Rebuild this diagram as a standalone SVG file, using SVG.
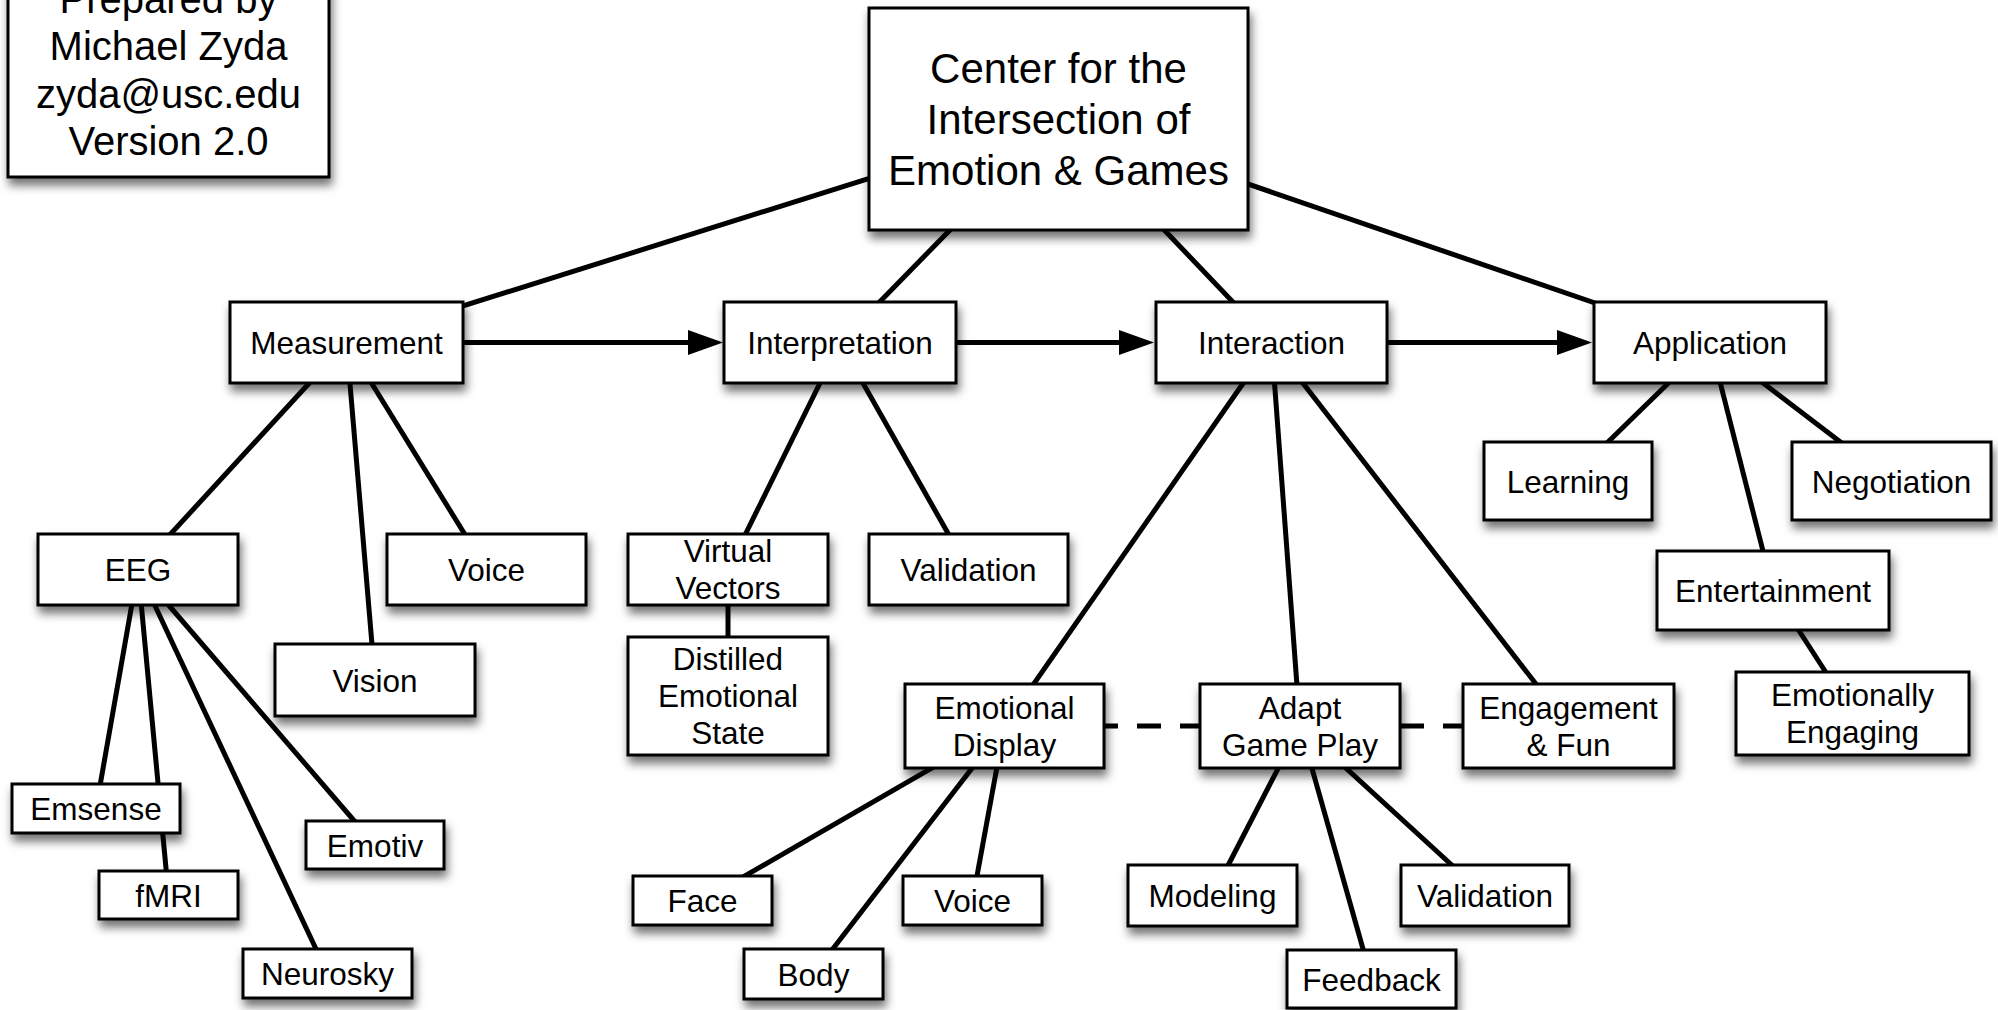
<svg xmlns="http://www.w3.org/2000/svg" width="1998" height="1010" viewBox="0 0 1998 1010">
<style>
  .box { fill: #ffffff; stroke: #000000; stroke-width: 3; filter: url(#shadow); }
  .t { font-family: "Liberation Sans", Arial, Helvetica, sans-serif; font-size: 31.5px; fill: #000000; text-anchor: middle; }
  .big { font-size: 42px; }
  .note { font-size: 40px; }
  .c { stroke: #000000; stroke-width: 5; fill: none; }
  .dash { stroke-dasharray: 24 19; }
</style>
<defs>
  <filter id="shadow" x="-20%" y="-20%" width="140%" height="160%">
    <feDropShadow dx="2" dy="7" stdDeviation="5" flood-color="#000000" flood-opacity="0.55"/>
  </filter>
  <marker id="arrow" markerUnits="userSpaceOnUse" markerWidth="36" markerHeight="26" refX="0" refY="12.5" orient="auto">
    <path d="M0,0 L35,12.5 L0,25 Z" fill="#000000"/>
  </marker>
</defs>
<rect width="1998" height="1010" fill="#ffffff"/>
<g id="connectors">
  <line class="c" x1="1058.5" y1="119" x2="346.5" y2="342.5"/>
  <line class="c" x1="1058.5" y1="119" x2="840" y2="342.5"/>
  <line class="c" x1="1058.5" y1="119" x2="1271.5" y2="342.5"/>
  <line class="c" x1="1058.5" y1="119" x2="1710" y2="342.5"/>
  <line class="c" x1="346.5" y1="342.5" x2="138" y2="569.5"/>
  <line class="c" x1="346.5" y1="342.5" x2="375" y2="680"/>
  <line class="c" x1="346.5" y1="342.5" x2="486.5" y2="569.5"/>
  <line class="c" x1="138" y1="569.5" x2="96" y2="808.5"/>
  <line class="c" x1="138" y1="569.5" x2="168.5" y2="895"/>
  <line class="c" x1="138" y1="569.5" x2="375" y2="845"/>
  <line class="c" x1="138" y1="569.5" x2="327.5" y2="973.5"/>
  <line class="c" x1="840" y1="342.5" x2="728" y2="569.5"/>
  <line class="c" x1="840" y1="342.5" x2="968.5" y2="569.5"/>
  <line class="c" x1="728" y1="569.5" x2="728" y2="696"/>
  <line class="c" x1="1271.5" y1="342.5" x2="1004.5" y2="726"/>
  <line class="c" x1="1271.5" y1="342.5" x2="1300" y2="726"/>
  <line class="c" x1="1271.5" y1="342.5" x2="1568.5" y2="726"/>
  <line class="c" x1="1004.5" y1="726" x2="702.5" y2="900.5"/>
  <line class="c" x1="1004.5" y1="726" x2="813.5" y2="974"/>
  <line class="c" x1="1004.5" y1="726" x2="972.5" y2="900.5"/>
  <line class="c" x1="1300" y1="726" x2="1212.5" y2="895.5"/>
  <line class="c" x1="1300" y1="726" x2="1371.5" y2="979"/>
  <line class="c" x1="1300" y1="726" x2="1485" y2="895.5"/>
  <line class="c" x1="1710" y1="342.5" x2="1568" y2="481"/>
  <line class="c" x1="1710" y1="342.5" x2="1891.5" y2="481"/>
  <line class="c" x1="1710" y1="342.5" x2="1773" y2="590.5"/>
  <line class="c" x1="1773" y1="590.5" x2="1852.5" y2="713.5"/>
  <line class="c" x1="463" y1="342.5" x2="688" y2="342.5" marker-end="url(#arrow)"/>
  <line class="c" x1="956" y1="342.5" x2="1119" y2="342.5" marker-end="url(#arrow)"/>
  <line class="c" x1="1387" y1="342.5" x2="1557" y2="342.5" marker-end="url(#arrow)"/>
  <line class="c dash" x1="1104" y1="726" x2="1200" y2="726" stroke-dashoffset="10"/>
  <line class="c dash" x1="1400" y1="726" x2="1463" y2="726"/>
</g>
<g id="prepared"><rect class="box" x="8" y="-37" width="321" height="214"/>
  <text class="t note" x="168.5" y="12.5">Prepared by</text>
  <text class="t note" x="168.5" y="60">Michael Zyda</text>
  <text class="t note" x="168.5" y="107.5">zyda@usc.edu</text>
  <text class="t note" x="168.5" y="155">Version 2.0</text></g>
<g id="center"><rect class="box" x="869" y="8" width="379" height="222"/>
  <text class="t big" x="1058.5" y="83">Center for the</text>
  <text class="t big" x="1058.5" y="134">Intersection of</text>
  <text class="t big" x="1058.5" y="185">Emotion &amp; Games</text></g>
<g id="measurement"><rect class="box" x="230" y="302" width="233" height="81"/><text class="t" x="346.5" y="354">Measurement</text></g>
<g id="interpretation"><rect class="box" x="724" y="302" width="232" height="81"/><text class="t" x="840" y="354">Interpretation</text></g>
<g id="interaction"><rect class="box" x="1156" y="302" width="231" height="81"/><text class="t" x="1271.5" y="354">Interaction</text></g>
<g id="application"><rect class="box" x="1594" y="302" width="232" height="81"/><text class="t" x="1710" y="354">Application</text></g>
<g id="eeg"><rect class="box" x="38" y="534" width="200" height="71"/><text class="t" x="138" y="581">EEG</text></g>
<g id="vision"><rect class="box" x="275" y="644" width="200" height="72"/><text class="t" x="375" y="691.5">Vision</text></g>
<g id="voice-measurement"><rect class="box" x="387" y="534" width="199" height="71"/><text class="t" x="486.5" y="581">Voice</text></g>
<g id="emsense"><rect class="box" x="12" y="784" width="168" height="49"/><text class="t" x="96" y="820">Emsense</text></g>
<g id="fmri"><rect class="box" x="99" y="871" width="139" height="48"/><text class="t" x="168.5" y="906.5">fMRI</text></g>
<g id="emotiv"><rect class="box" x="306" y="821" width="138" height="48"/><text class="t" x="375" y="856.5">Emotiv</text></g>
<g id="neurosky"><rect class="box" x="243" y="949" width="169" height="49"/><text class="t" x="327.5" y="985">Neurosky</text></g>
<g id="virtual-vectors"><rect class="box" x="628" y="534" width="200" height="71"/>
  <text class="t" x="728" y="562">Virtual</text><text class="t" x="728" y="599">Vectors</text></g>
<g id="validation-interpretation"><rect class="box" x="869" y="534" width="199" height="71"/><text class="t" x="968.5" y="581">Validation</text></g>
<g id="distilled"><rect class="box" x="628" y="637" width="200" height="118"/>
  <text class="t" x="728" y="670">Distilled</text><text class="t" x="728" y="707">Emotional</text><text class="t" x="728" y="744">State</text></g>
<g id="emotional-display"><rect class="box" x="905" y="684" width="199" height="84"/>
  <text class="t" x="1004.5" y="718.5">Emotional</text><text class="t" x="1004.5" y="755.5">Display</text></g>
<g id="adapt-game-play"><rect class="box" x="1200" y="684" width="200" height="84"/>
  <text class="t" x="1300" y="718.5">Adapt</text><text class="t" x="1300" y="755.5">Game Play</text></g>
<g id="engagement"><rect class="box" x="1463" y="684" width="211" height="84"/>
  <text class="t" x="1568.5" y="718.5">Engagement</text><text class="t" x="1568.5" y="755.5">&amp; Fun</text></g>
<g id="face"><rect class="box" x="633" y="876" width="139" height="49"/><text class="t" x="702.5" y="912">Face</text></g>
<g id="body"><rect class="box" x="744" y="949" width="139" height="50"/><text class="t" x="813.5" y="985.5">Body</text></g>
<g id="voice-display"><rect class="box" x="903" y="876" width="139" height="49"/><text class="t" x="972.5" y="912">Voice</text></g>
<g id="modeling"><rect class="box" x="1128" y="865" width="169" height="61"/><text class="t" x="1212.5" y="907">Modeling</text></g>
<g id="feedback"><rect class="box" x="1287" y="950" width="169" height="58"/><text class="t" x="1371.5" y="990.5">Feedback</text></g>
<g id="validation-adapt"><rect class="box" x="1401" y="865" width="168" height="61"/><text class="t" x="1485" y="907">Validation</text></g>
<g id="learning"><rect class="box" x="1484" y="442" width="168" height="78"/><text class="t" x="1568" y="492.5">Learning</text></g>
<g id="negotiation"><rect class="box" x="1792" y="442" width="199" height="78"/><text class="t" x="1891.5" y="492.5">Negotiation</text></g>
<g id="entertainment"><rect class="box" x="1657" y="551" width="232" height="79"/><text class="t" x="1773" y="602">Entertainment</text></g>
<g id="emotionally-engaging"><rect class="box" x="1736" y="672" width="233" height="83"/>
  <text class="t" x="1852.5" y="706">Emotionally</text><text class="t" x="1852.5" y="743">Engaging</text></g>
</svg>
